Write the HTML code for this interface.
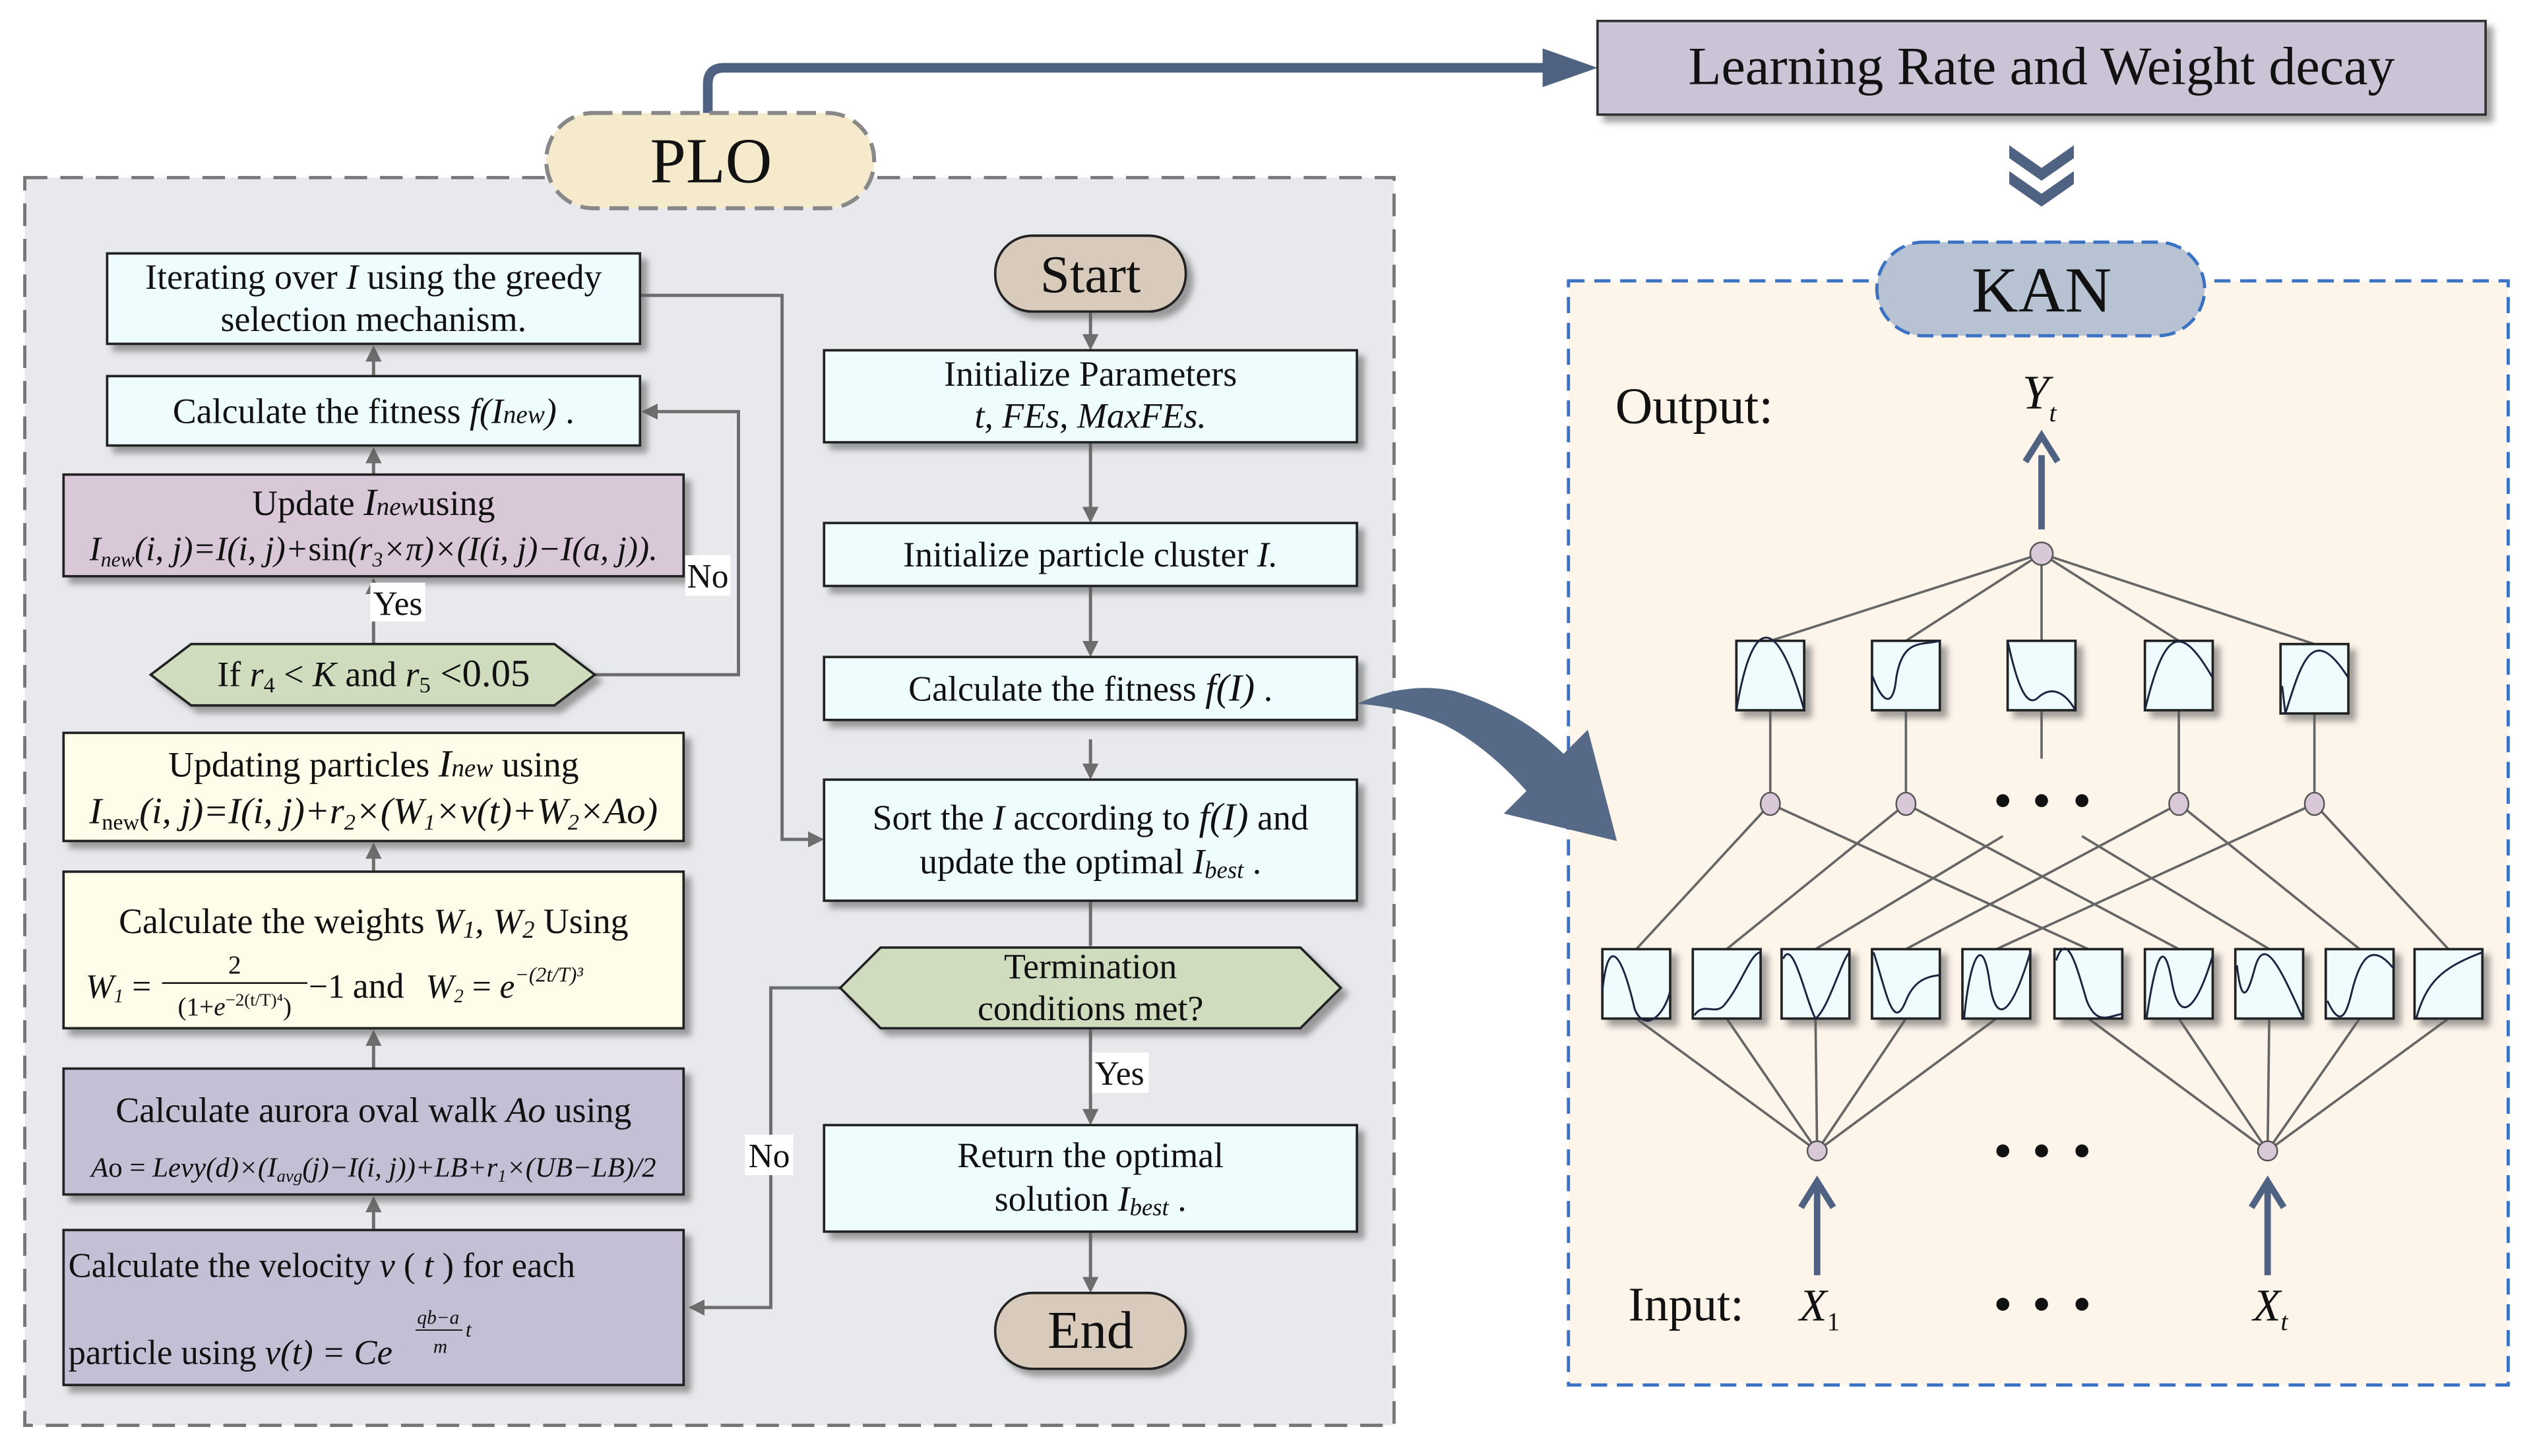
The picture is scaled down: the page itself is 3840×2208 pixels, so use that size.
<!DOCTYPE html>
<html><head><meta charset="utf-8"><style>
html,body{margin:0;padding:0;background:#fff;}
svg{display:block;}
text{font-family:"Liberation Serif",serif;fill:#111;}
</style></head><body>
<svg width="3840" height="2208" viewBox="0 0 1568 902" xmlns="http://www.w3.org/2000/svg">
<defs>
<filter id="sh" x="-10%" y="-10%" width="130%" height="140%"><feDropShadow dx="4" dy="4" stdDeviation="2" flood-color="#555" flood-opacity="0.55"/></filter>
<marker id="ah" markerWidth="10" markerHeight="10" refX="8" refY="5" orient="auto" markerUnits="userSpaceOnUse"><path d="M0,0 L10,5 L0,10 z" fill="#6d6d6d"/></marker>
</defs>
<rect width="1568" height="902" fill="#fff"/>
<rect x="15" y="110" width="848" height="773" fill="#e8e9ec" stroke="#777" stroke-width="2" stroke-dasharray="14,8"/>
<rect x="971" y="174" width="582" height="684" fill="#fdf4ea" stroke="#3b72c4" stroke-width="2" stroke-dasharray="10,6"/>
<path d="M438,70 L438,52 Q438,42 448,42 L960,42" fill="none" stroke="#4f6282" stroke-width="6"/>
<path d="M955,30 L989,42 L955,54 z" fill="#4f6282"/>
<rect x="989" y="13" width="550" height="58" fill="#cbc3d6" stroke="#333" stroke-width="1.5" filter="url(#sh)"/>
<text x="1264" y="52" font-size="33.5" text-anchor="middle">Learning Rate and Weight decay</text>
<path d="M1244,90 L1264,104 L1284,90 L1284,98 L1264,112 L1244,98 z" fill="#4f6282"/>
<path d="M1244,106 L1264,120 L1284,106 L1284,114 L1264,128 L1244,114 z" fill="#4f6282"/>
<rect x="338" y="70" width="203" height="59" rx="29" fill="#f5ebcc" stroke="#888" stroke-width="2.5" stroke-dasharray="12,6"/>
<text x="440" y="113" font-size="40" text-anchor="middle">PLO</text>
<rect x="1162" y="150" width="203" height="58" rx="29" fill="#b7c3d3" stroke="#3b72c4" stroke-width="2" stroke-dasharray="10,5"/>
<text x="1264" y="193" font-size="40" text-anchor="middle">KAN</text>

<g stroke="#6d6d6d" stroke-width="2" fill="none">
<line x1="231" y1="233" x2="231" y2="216" marker-end="url(#ah)"/>
<line x1="231" y1="294" x2="231" y2="279" marker-end="url(#ah)"/>
<line x1="231" y1="399" x2="231" y2="360" marker-end="url(#ah)"/>
<line x1="231" y1="540" x2="231" y2="524" marker-end="url(#ah)"/>
<line x1="231" y1="662" x2="231" y2="640" marker-end="url(#ah)"/>
<line x1="231" y1="762" x2="231" y2="743" marker-end="url(#ah)"/>
<polyline points="368,418 457,418 457,255 399,255" marker-end="url(#ah)"/>
<polyline points="396,183 484,183 484,520 508,520" marker-end="url(#ah)"/>
<line x1="675" y1="193" x2="675" y2="215" marker-end="url(#ah)"/>
<line x1="675" y1="274" x2="675" y2="322" marker-end="url(#ah)"/>
<line x1="675" y1="363" x2="675" y2="405" marker-end="url(#ah)"/>
<line x1="675" y1="458" x2="675" y2="481" marker-end="url(#ah)"/>
<line x1="675" y1="558" x2="675" y2="586" />
<line x1="675" y1="637" x2="675" y2="695" marker-end="url(#ah)"/>
<line x1="675" y1="763" x2="675" y2="799" marker-end="url(#ah)"/>
<polyline points="520,612 477,612 477,810 428,810" marker-end="url(#ah)"/>
</g>
<g stroke="#222" stroke-width="1.5" filter="url(#sh)">
<rect x="66" y="157" width="330" height="56" fill="#effcfd"/>
<rect x="66" y="233" width="330" height="43" fill="#effcfd"/>
<rect x="39" y="294" width="384" height="63" fill="#d9c8d7"/>
<polygon points="93,418 118,399 343,399 368,418 343,437 118,437" fill="#cfdcbe"/>
<rect x="39" y="454" width="384" height="67" fill="#fdfde9"/>
<rect x="39" y="540" width="384" height="97" fill="#fdfde9"/>
<rect x="39" y="662" width="384" height="78" fill="#c5bfd6"/>
<rect x="39" y="762" width="384" height="96" fill="#c5bfd6"/>
<rect x="616" y="146" width="118" height="47" rx="23" fill="#d8cbbb"/>
<rect x="510" y="217" width="330" height="57" fill="#effcfd"/>
<rect x="510" y="324" width="330" height="39" fill="#effcfd"/>
<rect x="510" y="407" width="330" height="39" fill="#effcfd"/>
<rect x="510" y="483" width="330" height="75" fill="#effcfd"/>
<polygon points="520,612 545,587 805,587 830,612 805,637 545,637" fill="#cfdcbe"/>
<rect x="510" y="697" width="330" height="66" fill="#effcfd"/>
<rect x="616" y="801" width="118" height="47" rx="23" fill="#d8cbbb"/>
</g>
<g font-size="22" text-anchor="middle">
<text x="231" y="179">Iterating over <tspan font-style="italic">I</tspan> using the greedy</text>
<text x="231" y="205">selection mechanism.</text>
<text x="231" y="262">Calculate the fitness <tspan font-style="italic">f(I<tspan font-size="16">new</tspan>)</tspan> .</text>
<text x="231" y="319">Update  <tspan font-style="italic" font-size="24">I</tspan><tspan font-style="italic" font-size="16">new</tspan>using</text>
<text x="231" y="347" font-size="21" font-style="italic">I<tspan font-size="13" dy="4">new</tspan><tspan dy="-4">(i, j)=I(i, j)+</tspan><tspan font-style="normal">sin</tspan>(r<tspan font-size="13" dy="4">3</tspan><tspan dy="-4">×π)×(I(i, j)−I(a, j)).</tspan></text>
<text x="231" y="425">If  <tspan font-style="italic">r</tspan><tspan font-size="14" dy="4">4</tspan><tspan dy="-4"> &lt; </tspan><tspan font-style="italic">K</tspan>   and  <tspan font-style="italic">r</tspan><tspan font-size="14" dy="4">5</tspan><tspan dy="-4" font-size="24"> &lt;0.05</tspan></text>
<text x="231" y="481">Updating particles  <tspan font-style="italic" font-size="24">I</tspan><tspan font-style="italic" font-size="16">new</tspan> using</text>
<text x="231" y="510" font-size="23" font-style="italic">I<tspan font-size="14" dy="4" font-style="normal">new</tspan><tspan dy="-4">(i, j)=I(i, j)+r</tspan><tspan font-size="14" dy="4">2</tspan><tspan dy="-4">×(W</tspan><tspan font-size="14" dy="4">1</tspan><tspan dy="-4">×v(t)+W</tspan><tspan font-size="14" dy="4">2</tspan><tspan dy="-4">×Ao)</tspan></text>
<text x="231" y="578">Calculate the weights <tspan font-style="italic">W<tspan font-size="15" dy="3">1</tspan><tspan dy="-3">, W</tspan><tspan font-size="15" dy="3">2</tspan></tspan><tspan dy="-3"> Using</tspan></text>
<text x="145" y="603" font-size="16">2</text>
<line x1="100" y1="609" x2="190" y2="609" stroke="#111" stroke-width="1"/>
<text x="145" y="629" font-size="16">(1+<tspan font-style="italic">e</tspan><tspan font-size="11" dy="-6">−2(t/T)⁴</tspan><tspan dy="6">)</tspan></text>
<text x="73" y="618" font-size="21" font-style="italic">W<tspan font-size="12" dy="3">1</tspan><tspan dy="-3" font-style="normal"> =</tspan></text>
<text x="202" y="618" font-size="21">−1</text>
<text x="234" y="618" font-size="22">and</text>
<text x="312" y="618" font-size="21" font-style="italic">W<tspan font-size="12" dy="3">2</tspan><tspan dy="-3" font-style="normal"> = </tspan>e<tspan font-size="13" dy="-10">−(2t/T)³</tspan></text>
<text x="231" y="695">Calculate aurora oval walk <tspan font-style="italic">Ao</tspan> using</text>
<text x="231" y="729" font-size="17.5" font-style="italic">A<tspan font-style="normal">o = </tspan>Levy(d)×(I<tspan font-size="11" dy="3">avg</tspan><tspan dy="-3">(j)−I(i, j))+LB+r</tspan><tspan font-size="11" dy="3">1</tspan><tspan dy="-3">×(UB−LB)/2</tspan></text>
</g>
<g font-size="21.5">
<text x="42" y="791">Calculate the velocity <tspan font-style="italic">v</tspan> ( <tspan font-style="italic">t</tspan> ) for each</text>
<text x="42" y="845">particle using  <tspan font-style="italic">v(t) = Ce</tspan></text>
<text x="258" y="820" font-size="12" font-style="italic">qb−a</text>
<line x1="257" y1="824" x2="286" y2="824" stroke="#111" stroke-width="0.8"/>
<text x="288" y="828" font-size="13" font-style="italic">t</text>
<text x="268" y="838" font-size="12" font-style="italic">m</text>
</g>
<g font-size="22" text-anchor="middle">
<text x="675" y="181" font-size="33">Start</text>
<text x="675" y="239">Initialize Parameters</text>
<text x="675" y="265" font-style="italic">t, FEs, MaxFEs.</text>
<text x="675" y="351">Initialize particle cluster <tspan font-style="italic">I.</tspan></text>
<text x="675" y="434">Calculate the fitness  <tspan font-style="italic" font-size="24">f(I)</tspan>    .</text>
<text x="675" y="514">Sort the <tspan font-style="italic">I</tspan> according to <tspan font-style="italic" font-size="24">f(I)</tspan>  and</text>
<text x="675" y="541">update the optimal <tspan font-style="italic">I<tspan font-size="15" dy="3">best</tspan></tspan><tspan dy="-3"> .</tspan></text>
<text x="675" y="606">Termination</text>
<text x="675" y="632">conditions met?</text>
<text x="675" y="723">Return the optimal</text>
<text x="675" y="750">solution <tspan font-style="italic">I<tspan font-size="15" dy="3">best</tspan></tspan><tspan dy="-3"> .</tspan></text>
<text x="675" y="835" font-size="33">End</text>
</g>
<rect x="229" y="361" width="34" height="24" fill="#fff"/>
<text x="246" y="381" font-size="21" text-anchor="middle">Yes</text>
<rect x="424" y="344" width="28" height="25" fill="#fff"/>
<text x="438" y="364" font-size="21" text-anchor="middle">No</text>
<rect x="676" y="652" width="35" height="25" fill="#fff"/>
<text x="693" y="672" font-size="21" text-anchor="middle">Yes</text>
<rect x="461" y="703" width="30" height="25" fill="#fff"/>
<text x="476" y="723" font-size="21" text-anchor="middle">No</text>

<path d="M840,436 Q870,422 900,428 Q940,440 968,467 L983,452 L1001,521 L931,504 L945,490 Q920,462 894,449 Q870,438 840,436 z" fill="#566987"/>

<text x="1000" y="262" font-size="32">Output:</text>
<text x="1252" y="253" font-size="30" font-style="italic">Y<tspan font-size="16" dy="8">t</tspan></text>
<line x1="1264" y1="328" x2="1264" y2="282" stroke="#4f6282" stroke-width="4"/>
<path d="M1254,286 L1264,270 L1274,286" fill="none" stroke="#4f6282" stroke-width="4"/>
<g stroke="#666" stroke-width="1.5" fill="none">
<line x1="1264" y1="343" x2="1096" y2="397"/><line x1="1264" y1="343" x2="1180" y2="397"/><line x1="1264" y1="343" x2="1264" y2="397"/><line x1="1264" y1="343" x2="1349" y2="397"/><line x1="1264" y1="343" x2="1433" y2="399"/>
<line x1="1096" y1="440" x2="1096" y2="498"/><line x1="1180" y1="440" x2="1180" y2="498"/><line x1="1264" y1="440" x2="1264" y2="470"/><line x1="1349" y1="440" x2="1349" y2="498"/><line x1="1433" y1="442" x2="1433" y2="498"/>
<line x1="1096" y1="498" x2="1013" y2="588"/><line x1="1096" y1="498" x2="1293" y2="588"/>
<line x1="1180" y1="498" x2="1069" y2="588"/><line x1="1180" y1="498" x2="1349" y2="588"/>
<line x1="1240" y1="518" x2="1124" y2="588"/><line x1="1289" y1="518" x2="1405" y2="588"/>
<line x1="1349" y1="498" x2="1180" y2="588"/><line x1="1349" y1="498" x2="1461" y2="588"/>
<line x1="1433" y1="498" x2="1236" y2="588"/><line x1="1433" y1="498" x2="1516" y2="588"/>
<line x1="1013" y1="631" x2="1125" y2="713"/><line x1="1069" y1="631" x2="1125" y2="713"/><line x1="1124" y1="631" x2="1125" y2="713"/><line x1="1180" y1="631" x2="1125" y2="713"/><line x1="1236" y1="631" x2="1125" y2="713"/>
<line x1="1293" y1="631" x2="1404" y2="713"/><line x1="1349" y1="631" x2="1404" y2="713"/><line x1="1405" y1="631" x2="1404" y2="713"/><line x1="1461" y1="631" x2="1404" y2="713"/><line x1="1516" y1="631" x2="1404" y2="713"/>
</g>
<circle cx="1264" cy="343" r="7" fill="#d9c8d7" stroke="#555"/>
<g fill="#d9c8d7" stroke="#555">
<ellipse cx="1096" cy="498" rx="6" ry="7"/><ellipse cx="1180" cy="498" rx="6" ry="7"/><ellipse cx="1349" cy="498" rx="6" ry="7"/><ellipse cx="1433" cy="498" rx="6" ry="7"/>
<circle cx="1125" cy="713" r="6"/><circle cx="1404" cy="713" r="6"/>
</g>
<g fill="#111">
<circle cx="1240" cy="496" r="4"/><circle cx="1264" cy="496" r="4"/><circle cx="1289" cy="496" r="4"/>
<circle cx="1240" cy="713" r="4"/><circle cx="1264" cy="713" r="4"/><circle cx="1289" cy="713" r="4"/>
<circle cx="1240" cy="808" r="4"/><circle cx="1264" cy="808" r="4"/><circle cx="1289" cy="808" r="4"/>
</g>
<g stroke="#222" stroke-width="1.5" fill="#effcfd" filter="url(#sh)">
<rect x="1075" y="397" width="42" height="43"/><rect x="1159" y="397" width="42" height="43"/><rect x="1243" y="397" width="42" height="43"/><rect x="1328" y="397" width="42" height="43"/><rect x="1412" y="399" width="42" height="43"/>
<rect x="992" y="588" width="42" height="43"/><rect x="1048" y="588" width="42" height="43"/><rect x="1103" y="588" width="42" height="43"/><rect x="1159" y="588" width="42" height="43"/><rect x="1215" y="588" width="42" height="43"/><rect x="1272" y="588" width="42" height="43"/><rect x="1328" y="588" width="42" height="43"/><rect x="1384" y="588" width="42" height="43"/><rect x="1440" y="588" width="42" height="43"/><rect x="1495" y="588" width="42" height="43"/>
</g>
<g stroke="#1a2440" stroke-width="1.2" fill="none">
<path d="M1075,440 C1085,380 1100,380 1117,440"/>
<path d="M1159,418 C1165,435 1172,440 1174,420 C1178,395 1190,400 1201,397"/>
<path d="M1243,397 C1250,430 1256,438 1262,432 C1270,425 1278,428 1285,440"/>
<path d="M1328,440 C1340,390 1350,385 1370,420"/>
<path d="M1413,425 L1415,442 C1425,410 1432,385 1454,420"/>
<path d="M992,614 C996,575 1005,595 1012,625 C1018,640 1030,630 1034,614"/>
<path d="M1049,629 C1055,620 1062,630 1068,622 C1078,610 1084,590 1090,590"/>
<path d="M1104,594 C1110,580 1118,620 1124,631 C1132,625 1140,595 1145,590"/>
<path d="M1160,590 C1168,615 1172,640 1180,620 C1186,605 1196,605 1201,604"/>
<path d="M1216,631 C1220,590 1228,578 1232,610 C1236,635 1245,630 1257,590"/>
<path d="M1273,595 C1280,575 1286,600 1292,620 C1298,635 1305,630 1314,628"/>
<path d="M1329,631 C1335,590 1340,580 1345,610 C1350,635 1360,625 1370,592"/>
<path d="M1385,598 C1388,625 1392,615 1396,600 C1402,578 1412,600 1426,631"/>
<path d="M1441,620 C1448,635 1452,632 1456,615 C1462,590 1470,585 1482,600"/>
<path d="M1496,631 C1502,610 1510,600 1537,590"/>
</g>
<text x="1008" y="818" font-size="30">Input:</text>
<text x="1114" y="818" font-size="28" font-style="italic">X<tspan font-size="16" dy="6" font-style="normal">1</tspan></text>
<text x="1395" y="818" font-size="28" font-style="italic">X<tspan font-size="16" dy="6">t</tspan></text>
<g stroke="#4f6282" stroke-width="4" fill="none">
<line x1="1125" y1="790" x2="1125" y2="735"/><path d="M1115,748 L1125,732 L1135,748"/>
<line x1="1404" y1="790" x2="1404" y2="735"/><path d="M1394,748 L1404,732 L1414,748"/>
</g>
</svg>
</body></html>
